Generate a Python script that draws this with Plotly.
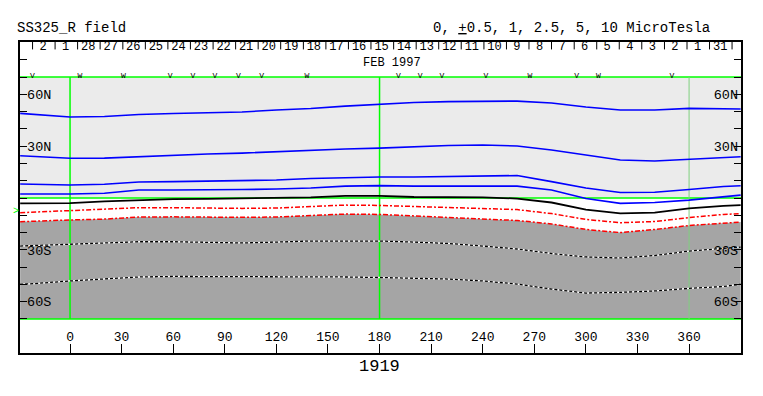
import plotly.graph_objects as go

# ---------------- data ----------------
lons = [-29, -20, 0, 20, 40, 60, 80, 100, 120, 140, 160, 180, 200, 220, 240, 260, 280, 300, 320, 340, 360, 380, 390]

c_p5 = [49.0, 48.3, 46.9, 47.2, 48.3, 48.9, 49.3, 49.8, 50.9, 51.8, 53.2, 54.4, 55.3, 55.8, 56.1, 56.1, 55.0, 52.7, 50.9, 50.9, 51.9, 51.8, 51.5]
c_p25 = [24.5, 24.0, 23.0, 23.1, 24.0, 24.9, 25.5, 26.0, 26.9, 27.8, 28.4, 28.9, 29.8, 30.4, 30.7, 30.1, 27.8, 24.9, 22.0, 21.4, 22.4, 23.4, 23.9]
c_p1 = [8.1, 7.8, 7.5, 8.0, 9.3, 9.5, 9.9, 10.2, 10.4, 11.3, 11.9, 12.2, 12.2, 12.4, 13.0, 13.0, 9.5, 5.8, 3.2, 3.3, 4.9, 6.7, 7.1]
c_p05 = [2.3, 2.3, 2.3, 2.8, 4.6, 4.6, 4.6, 4.9, 5.2, 5.8, 6.9, 7.2, 6.9, 6.9, 6.9, 6.9, 4.6, -0.3, -3.1, -2.6, -1.2, 0.6, 1.7]
c_0 = [-3.1, -3.0, -2.9, -2.0, -1.2, -0.6, -0.5, -0.3, -0.2, 0.4, 1.2, 1.2, 0.6, 0.4, 0.4, -0.3, -2.6, -6.7, -8.9, -8.4, -6.0, -4.6, -4.1]
c_m05 = [-8.5, -8.1, -7.5, -6.7, -5.6, -5.6, -6.0, -6.0, -5.8, -4.9, -4.1, -4.3, -4.9, -5.4, -5.7, -6.7, -9.0, -12.4, -14.3, -13.6, -11.3, -9.5, -9.1]
c_m1 = [-13.7, -13.3, -12.7, -12.2, -11.0, -10.9, -11.2, -11.2, -11.0, -10.1, -9.3, -9.5, -10.4, -11.3, -12.0, -13.0, -15.0, -18.2, -20.0, -18.2, -15.9, -14.3, -13.9]
c_m25 = [-27.8, -27.5, -26.8, -25.9, -25.3, -25.3, -25.5, -26.0, -25.5, -24.9, -24.9, -24.9, -25.5, -26.3, -27.8, -29.5, -32.1, -34.1, -34.7, -33.3, -30.7, -29.1, -28.4]
c_m5 = [-49.9, -49.5, -48.0, -46.9, -45.7, -45.4, -45.4, -45.4, -45.4, -45.4, -45.7, -46.0, -46.3, -46.9, -48.0, -49.8, -52.7, -55.0, -54.6, -53.8, -52.3, -51.2, -49.9]

day_labels = ["2", "1", "28", "27", "26", "25", "24", "23", "22", "21", "20", "19", "18", "17", "16",
              "15", "14", "13", "12", "11", "10", "9", "8", "7", "6", "5", "4", "3", "2", "1", "31"]
day_label_lons = [-15.7, -2.6, 10.6, 23.7, 36.8, 49.9, 63.1, 76.2, 89.3, 102.4, 115.6, 128.7, 141.8, 154.9, 168.1,
                  181.2, 194.3, 207.4, 220.6, 233.7, 246.8, 259.9, 273.1, 286.2, 299.3, 312.4, 325.6, 338.7, 351.8, 364.9, 378.1]
day_tick_lons = [-21.8, -8.7, 4.4, 17.5, 30.7, 43.8, 56.9, 70.0, 83.2, 96.3, 109.4, 122.5, 135.7, 148.8, 161.9, 175.0,
                 188.2, 201.3, 214.4, 227.5, 240.7, 253.8, 266.9, 280.0, 293.2, 306.3, 319.4, 332.5, 345.7, 358.8, 371.9, 385.0]

event_lons = [-21.9, 5.8, 31.0, 58.2, 71.4, 84.3, 97.9, 111.5, 137.7, 190.9, 203.6, 216.2, 241.9, 267.5, 294.7, 307.3, 350.0]
event_marks = ["V", "W", "W", "V", "V", "V", "V", "V", "W", "V", "V", "V", "V", "W", "V", "W", "V"]

lon_ticks = [0, 30, 60, 90, 120, 150, 180, 210, 240, 270, 300, 330, 360]
lat_ticks = [-80, -70, -60, -50, -40, -30, -20, -10, 0, 10, 20, 30, 40, 50, 60, 70, 80]
lat_ticktext = ["", "", "60S", "", "", "30S", "", "", "", "", "", "30N", "", "", "60N", "", ""]

green_lons = [0, 180]
faint_lon = [360]
lat_limits = [-70, 70]
earth_lat = -8.0

x_range = [-29.1, 390.2]
y_range = [-89.7, 90.3]

FONT = "Liberation Mono"
BLUE = "#0000FF"
RED = "#FF0000"
GREEN = "#00FF00"

fig = go.Figure()

# dark gray negative region below the -1 contour
fig.add_trace(go.Scatter(
    x=lons + lons[::-1], y=c_m1 + [lat_limits[0]] * len(lons),
    fill="toself", fillcolor="#A5A5A5", line=dict(width=0), mode="lines",
    hoverinfo="skip", showlegend=False))

# green reference lines
gx, gy = [], []
for L in green_lons:
    gx += [L, L, None]
    gy += [lat_limits[0], lat_limits[1], None]
for la in [lat_limits[0], 0, lat_limits[1]]:
    gx += [x_range[0], x_range[1], None]
    gy += [la, la, None]
fig.add_trace(go.Scatter(x=gx, y=gy, mode="lines", line=dict(color=GREEN, width=1.5),
                         hoverinfo="skip", showlegend=False))
fig.add_trace(go.Scatter(x=[faint_lon[0], faint_lon[0]], y=lat_limits, mode="lines",
                         line=dict(color="#7FD07F", width=1), hoverinfo="skip", showlegend=False))

# contours
def line(y, color, width=1.5, dash="solid"):
    fig.add_trace(go.Scatter(x=lons, y=y, mode="lines", line=dict(color=color, width=width, dash=dash),
                             hoverinfo="skip", showlegend=False))

for c in [c_p5, c_p25, c_p1, c_p05]:
    line(c, BLUE, 1.6)
line(c_0, "black", 1.8)
line(c_m05, RED, 1.5, "5px,2px,2px,2px")
line(c_m1, RED, 1.5, "5px,2px,2px,2px")
for c in [c_m25, c_m5]:
    line(c, "white", 1.3)
    line(c, "black", 1.3, "3px,2px")

# day ticks in top box
tx, ty = [], []
for L in day_tick_lons:
    tx += [L, L, None]
    ty += [y_range[1], 86.0, None]
fig.add_trace(go.Scatter(x=tx, y=ty, mode="lines", line=dict(color="black", width=1),
                         hoverinfo="skip", showlegend=False, yaxis="y2"))

fig.add_trace(go.Scatter(x=day_label_lons, y=[87.4] * len(day_labels), text=day_labels, mode="text",
                         textfont=dict(family=FONT, size=12, color="black"), cliponaxis=False,
                         hoverinfo="skip", showlegend=False))
fig.add_trace(go.Scatter(x=event_lons, y=[70.9] * len(event_marks), text=event_marks, mode="text",
                         textfont=dict(family=FONT, size=8, color="black"), cliponaxis=False,
                         hoverinfo="skip", showlegend=False))

fig.add_annotation(x=180, y=78.1, text="FEB 1997", showarrow=False,
                   font=dict(family=FONT, size=12, color="black"), xanchor="left", yanchor="middle",
                   xshift=-18, borderpad=0)
fig.add_annotation(xref="paper", yref="paper", x=-0.0069, y=1.046, text="SS325_R field", showarrow=False,
                   font=dict(family=FONT, size=14, color="black"), xanchor="left", yanchor="middle")
fig.add_annotation(xref="paper", yref="paper", x=0.9598, y=1.046,
                   text="0, <u>+</u>0.5, 1, 2.5, 5, 10 MicroTesla", showarrow=False,
                   font=dict(family=FONT, size=14, color="black"), xanchor="right", yanchor="middle")
fig.add_annotation(xref="paper", yref="paper", x=0.4993, y=-0.0434, text="1919", showarrow=False,
                   font=dict(family=FONT, size=17, color="black"), xanchor="center", yanchor="middle")
fig.add_annotation(xref="paper", yref="y", x=-0.005, y=earth_lat, text=">", showarrow=False,
                   font=dict(family=FONT, size=10, color=GREEN), xanchor="center", yanchor="middle")

fig.update_layout(
    width=747, height=380,
    margin=dict(l=12, r=14, t=34, b=35, pad=0),
    paper_bgcolor="white", plot_bgcolor="white",
    shapes=[dict(type="rect", xref="paper", yref="y", x0=0, x1=1, y0=0, y1=lat_limits[1],
                 fillcolor="#EBEBEB", line=dict(width=0), layer="below")],
    xaxis=dict(range=x_range, tickvals=lon_ticks, ticktext=[str(v) for v in lon_ticks],
               ticks="inside", ticklen=9, tickcolor="black", tickwidth=1.3,
               ticklabelposition="inside", tickfont=dict(family=FONT, size=13, color="black"),
               showline=True, linecolor="black", linewidth=1.5, mirror=True,
               showgrid=False, zeroline=False),
    yaxis=dict(range=y_range, tickvals=lat_ticks, ticktext=lat_ticktext,
               ticks="inside", ticklen=7, tickcolor="black", tickwidth=1.3,
               ticklabelposition="inside", tickfont=dict(family=FONT, size=13.5, color="black"),
               showline=True, linecolor="black", linewidth=1.5, mirror="ticks",
               showgrid=False, zeroline=False),
    yaxis2=dict(range=y_range, tickvals=lat_ticks, ticktext=lat_ticktext, overlaying="y", side="right",
                ticks="", ticklabelposition="inside", tickfont=dict(family=FONT, size=13.5, color="black"),
                showline=False, showgrid=False, zeroline=False),
)

fig.write_html("out.html")
